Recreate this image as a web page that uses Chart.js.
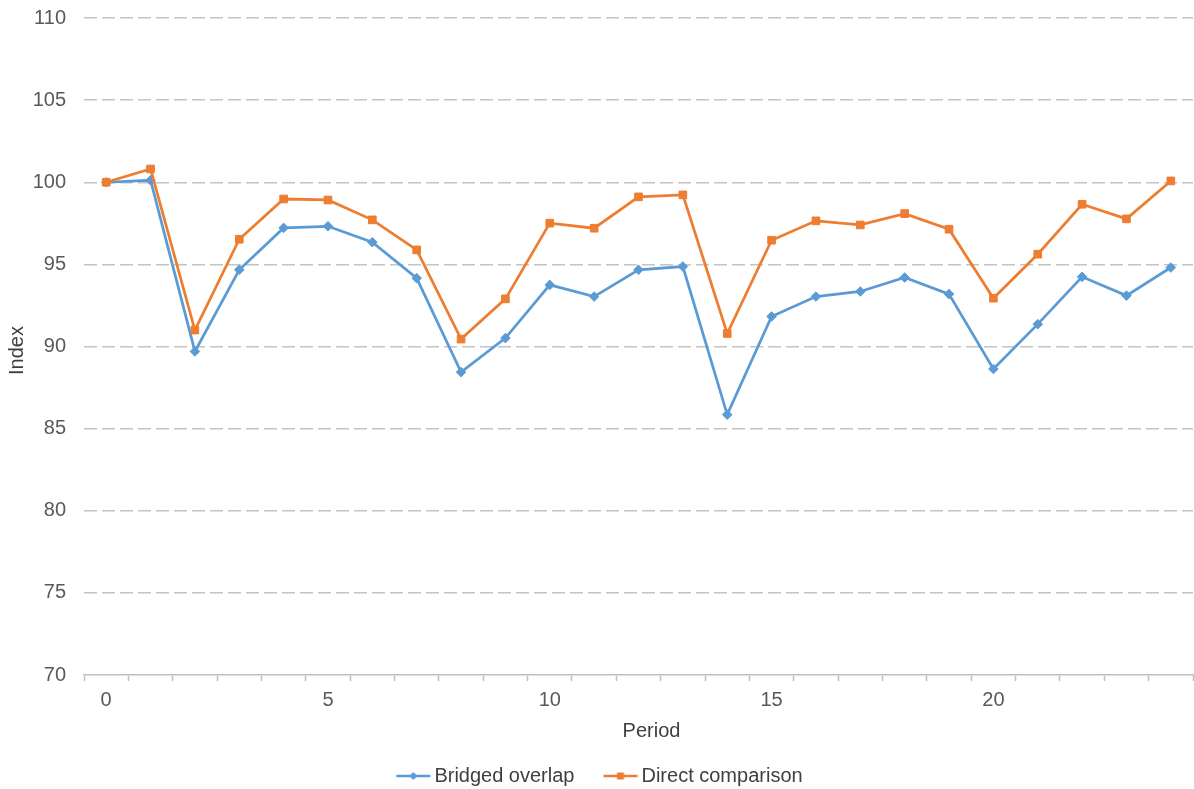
<!DOCTYPE html>
<html>
<head>
<meta charset="utf-8">
<script src="https://cdn.jsdelivr.net/npm/chart.js@4/dist/chart.umd.min.js"></script>
<style>
  html, body { margin: 0; padding: 0; background: #ffffff; }
  #wrap { width: 1194px; height: 789px; position: relative; }
</style>
</head>
<body>
<div id="wrap"><canvas id="chart"></canvas></div>
<script>
// Periods 0..24
const periods = ['0','1','2','3','4','5','6','7','8','9','10','11','12','13','14','15','16','17','18','19','20','21','22','23','24'];

// Index values per period
const bridgedOverlap = [100.0, 100.12, 89.70, 94.67, 97.22, 97.32, 96.35, 94.16, 88.44, 90.51,
                        93.75, 93.04, 94.67, 94.87, 85.85, 91.83, 93.04, 93.35, 94.20, 93.19,
                        88.63, 91.36, 94.24, 93.10, 94.81];
const directComparison = [100.0, 100.81, 91.00, 96.53, 98.98, 98.92, 97.71, 95.88, 90.45, 92.90,
                          97.51, 97.20, 99.11, 99.23, 90.79, 96.47, 97.65, 97.40, 98.09, 97.14,
                          92.94, 95.62, 98.66, 97.77, 100.08];

const seriesNames = ['Bridged overlap', 'Direct comparison'];
const yTicks = [70, 75, 80, 85, 90, 95, 100, 105, 110];
const xTitle = 'Period';
const yTitle = 'Index';

const BLUE = '#5b9bd5';
const ORANGE = '#ed7d31';
const FONT = '"Liberation Sans", Arial, sans-serif';
const FS = 20;

// Line-with-marker swatches for the legend; the swatch sits at the right end
// of a wider transparent canvas so it ends just before the label text.
function swatch(color, shape) {
  const c = document.createElement('canvas');
  c.width = 62; c.height = 12;
  const g = c.getContext('2d');
  g.strokeStyle = color;
  g.lineWidth = 2.5;
  g.beginPath(); g.moveTo(27, 6); g.lineTo(61, 6); g.stroke();
  g.fillStyle = color;
  g.beginPath();
  if (shape === 'diamond') {
    g.moveTo(44, 2); g.lineTo(48, 6); g.lineTo(44, 10); g.lineTo(40, 6); g.closePath();
  } else {
    g.rect(40.5, 2.5, 7, 7);
  }
  g.fill();
  return c;
}
const legendMarks = [swatch(BLUE, 'diamond'), swatch(ORANGE, 'square')];

// Nudges the legend box after layout (left edge widened, moved down a little)
const legendNudge = {
  id: 'legendNudge',
  afterLayout(chart) {
    const lg = chart.legend;
    if (!lg) return;
    lg.left -= 14;
    lg.width += 14;
    lg.top += 7;
    lg.bottom += 7;
  }
};

// Axis titles, placed relative to the plot area
const axisTitles = {
  id: 'axisTitles',
  afterDraw(chart) {
    const { ctx, chartArea: a } = chart;
    ctx.save();
    ctx.fillStyle = '#404040';
    ctx.font = FS + 'px ' + FONT;
    ctx.textAlign = 'center';
    ctx.textBaseline = 'middle';
    ctx.fillText(xTitle, (a.left + a.right) / 2 + 13, a.bottom + 56);
    ctx.translate(17, (a.top + a.bottom) / 2 + 4);
    ctx.rotate(-Math.PI / 2);
    ctx.fillText(yTitle, 0, 0);
    ctx.restore();
  }
};

new Chart(document.getElementById('chart'), {
  type: 'line',
  plugins: [legendNudge, axisTitles],
  data: {
    labels: periods,
    datasets: [
      {
        label: seriesNames[0],
        data: bridgedOverlap,
        borderColor: BLUE,
        backgroundColor: BLUE,
        borderWidth: 2.75,
        pointStyle: 'rectRot',
        pointRadius: 4.8,
        pointBorderWidth: 1,
        pointHoverRadius: 4.8,
        tension: 0,
        order: 1
      },
      {
        label: seriesNames[1],
        data: directComparison,
        borderColor: ORANGE,
        backgroundColor: ORANGE,
        borderWidth: 2.75,
        pointStyle: 'rect',
        pointRadius: 5.4,
        pointBorderWidth: 1,
        pointHoverRadius: 5.4,
        tension: 0,
        order: 0
      }
    ]
  },
  options: {
    responsive: true,
    maintainAspectRatio: false,
    animation: false,
    layout: { autoPadding: false, padding: { top: 18, right: 1, bottom: 0, left: 0 } },
    plugins: {
      tooltip: { enabled: false },
      legend: {
        position: 'bottom',
        labels: {
          usePointStyle: true,
          pointStyleWidth: 48,
          padding: 9,
          color: '#404040',
          font: { family: FONT, size: FS },
          sort: (a, b) => a.datasetIndex - b.datasetIndex,
          generateLabels(chart) {
            const items = Chart.defaults.plugins.legend.labels.generateLabels(chart);
            items.forEach((it) => { it.pointStyle = legendMarks[it.datasetIndex]; });
            return items;
          }
        }
      }
    },
    scales: {
      x: {
        type: 'category',
        offset: true,
        afterFit(scale) {
          scale.paddingLeft = 0;
          scale.paddingRight = 0;
          scale.height += 31; // room for the axis title
        },
        grid: {
          offset: true,
          drawOnChartArea: false,
          drawTicks: true,
          tickLength: 6,
          tickColor: '#bfbfbf',
          tickWidth: 1.5
        },
        border: { color: '#bfbfbf', width: 1.5 },
        ticks: {
          autoSkip: false,
          maxRotation: 0,
          padding: 9,
          color: '#595959',
          font: { family: FONT, size: FS, lineHeight: 1 },
          callback: (v, i) => (i % 5 === 0 ? periods[i] : '')
        },
        title: { display: false }
      },
      y: {
        min: 70,
        max: 110,
        afterBuildTicks(scale) { scale.ticks = yTicks.map(v => ({ value: v })); },
        afterFit(scale) {
          scale.width = 84;
          scale.paddingTop = 0;
          scale.paddingBottom = 0;
        },
        grid: {
          drawTicks: false,
          color: (ctx) => (ctx.tick && ctx.tick.value === 70 ? 'rgba(0,0,0,0)' : '#c4c4c4'),
          lineWidth: 1.5
        },
        border: { display: false, dash: [13, 5] },
        ticks: {
          padding: 18,
          color: '#595959',
          font: { family: FONT, size: FS }
        },
        title: { display: false }
      }
    }
  }
});
</script>
</body>
</html>
